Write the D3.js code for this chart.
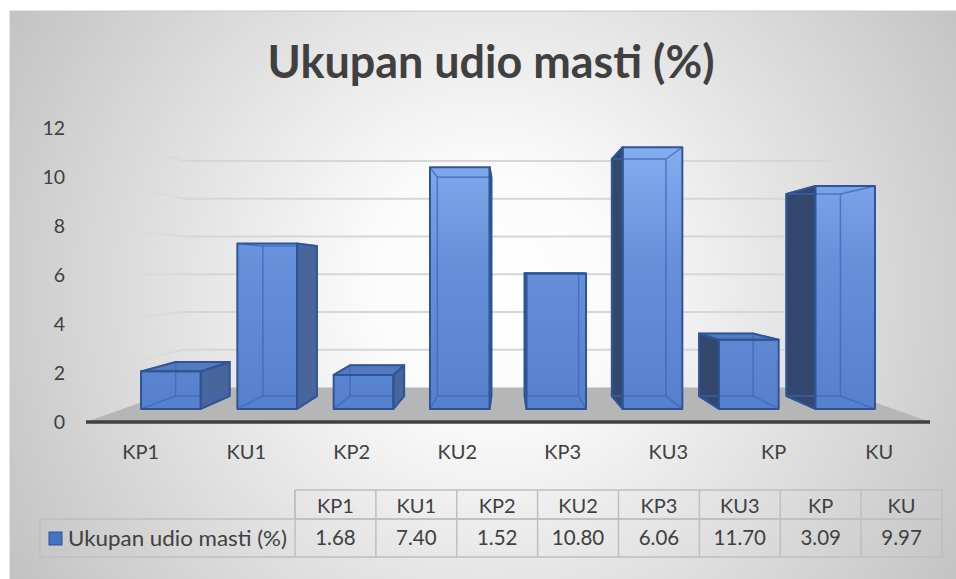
<!DOCTYPE html>
<html>
<head>
<meta charset="utf-8">
<script src="https://cdn.jsdelivr.net/npm/d3@7"></script>
<style>
  body { margin: 0; background: #fff; }
  text { font-family: Lato, "Open Sans", sans-serif; fill: #404040; }
</style>
</head>
<body>
<div class="svg"></div>
<script>
// chart data
var categories = ["KP1", "KU1", "KP2", "KU2", "KP3", "KU3", "KP", "KU"];
var values = [1.68, 7.40, 1.52, 10.80, 6.06, 11.70, 3.09, 9.97];
var valueLabels = ["1.68", "7.40", "1.52", "10.80", "6.06", "11.70", "3.09", "9.97"];
var yTicks = [0, 2, 4, 6, 8, 10, 12];
var seriesName = "Ukupan udio masti (%)";
var title = "Ukupan udio masti (%)";

var width = 956, height = 579;

var svg = d3.select("div.svg").append("svg")
  .attr("width", width)
  .attr("height", height);

var defs = svg.append("defs");
var bg = defs.append("radialGradient")
  .attr("id", "bg")
  .attr("gradientUnits", "userSpaceOnUse")
  .attr("cx", 490).attr("cy", 290).attr("r", 560);
bg.append("stop").attr("offset", 0).attr("stop-color", "#ffffff");
bg.append("stop").attr("offset", 0.22).attr("stop-color", "#fbfbfb");
bg.append("stop").attr("offset", 1).attr("stop-color", "#c2c2c2");

var barGrad = defs.append("linearGradient")
  .attr("id", "barGrad")
  .attr("gradientUnits", "userSpaceOnUse")
  .attr("x1", 0).attr("y1", 140).attr("x2", 0).attr("y2", 410);
barGrad.append("stop").attr("offset", 0).attr("stop-color", "#86aef2");
barGrad.append("stop").attr("offset", 0.45).attr("stop-color", "#6690da");
barGrad.append("stop").attr("offset", 1).attr("stop-color", "#5680cc");

var wallLine = defs.append("linearGradient")
  .attr("id", "wallLine")
  .attr("x1", 0).attr("x2", 1).attr("y1", 0).attr("y2", 0);
wallLine.append("stop").attr("offset", 0).attr("stop-color", "#d9d9d9").attr("stop-opacity", 0.2);
wallLine.append("stop").attr("offset", 1).attr("stop-color", "#d9d9d9").attr("stop-opacity", 1);

svg.append("rect")
  .attr("x", 10).attr("y", 11)
  .attr("width", 960).attr("height", 580)
  .attr("fill", "url(#bg)")
  .attr("stroke", "#c8c8c8");

// title
svg.append("text")
  .attr("x", 491).attr("y", 78)
  .attr("text-anchor", "middle")
  .attr("font-size", 45)
  .attr("font-weight", "bold")
  .attr("textLength", 447)
  .attr("lengthAdjust", "spacingAndGlyphs")
  .text(title);

// perspective setup: front plane scales + vanishing point
var x = d3.scaleBand().domain(categories).range([86, 930]);
var y = d3.scaleLinear().domain([0, 12]).range([422, 128]);
var vp = [508, 272];
var sWall = 0.77, sFront = 0.913, sBack = 0.827;

function P(X, v, s) {
  return [vp[0] + (X - vp[0]) * s, vp[1] + (y(v) - vp[1]) * s];
}
function poly(pts) { return "M" + pts.map(p => p.join(",")).join("L") + "Z"; }

var x0 = x.range()[0], x1 = x.range()[1];

// floor
svg.append("path")
  .attr("d", poly([P(x0, 0, 1), P(x1, 0, 1), P(x1, 0, sWall), P(x0, 0, sWall)]))
  .attr("fill", "#b6b6b6");

// gridlines on left wall and back wall
var grid = svg.append("g");
yTicks.filter(d => d > 0).forEach(function(t) {
  var a = P(x0, t, 1), b = P(x0, t, sWall), c = P(x1, t, sWall);
  grid.append("line")
    .attr("x1", a[0]).attr("y1", a[1]).attr("x2", b[0]).attr("y2", b[1])
    .attr("stroke", "url(#wallLine)").attr("stroke-width", 2);
  grid.append("line")
    .attr("x1", b[0]).attr("y1", b[1]).attr("x2", c[0]).attr("y2", c[1])
    .attr("stroke", "#d6d6d6").attr("stroke-width", 2);
});

// front axis line
svg.append("line")
  .attr("x1", P(x0, 0, 1)[0]).attr("y1", y(0))
  .attr("x2", P(x1, 0, 1)[0]).attr("y2", y(0))
  .attr("stroke", "#404040").attr("stroke-width", 3.5);

// y tick labels
svg.append("g").selectAll("text")
  .data(yTicks)
  .join("text")
  .attr("x", 65)
  .attr("y", d => y(d))
  .attr("dy", "0.36em")
  .attr("text-anchor", "end")
  .attr("font-size", 19.5)
  .text(d => d);

// bars as 3d boxes
var bw = x.bandwidth() * 0.62;
var edge = "#2f5597";
var bars = svg.append("g");
categories.forEach(function(c, i) {
  var v = values[i];
  var cx = x(c) + x.bandwidth() / 2;
  var L = cx - bw / 2, R = cx + bw / 2;
  var front = [P(L, 0, sFront), P(R, 0, sFront), P(R, v, sFront), P(L, v, sFront)];
  var back = [P(L, 0, sBack), P(R, 0, sBack), P(R, v, sBack), P(L, v, sBack)];
  var g = bars.append("g");

  // visible side faces
  if (L > vp[0]) {
    g.append("path").attr("d", poly([front[0], back[0], back[3], front[3]]))
      .attr("fill", "#34476c");
  }
  if (R < vp[0]) {
    g.append("path").attr("d", poly([front[1], back[1], back[2], front[2]]))
      .attr("fill", "#48669c");
  }
  if (y(v) > vp[1]) {
    g.append("path").attr("d", poly([front[3], front[2], back[2], back[3]]))
      .attr("fill", "#5479c0");
  }
  g.append("path").attr("d", poly(front)).attr("fill", "url(#barGrad)");

  // hidden edges seen through the glassy box
  var hidden = g.append("g").attr("stroke", "#3d67b5").attr("stroke-opacity", 0.75)
    .attr("stroke-width", 1.5).attr("fill", "none");
  hidden.append("path").attr("d", poly(back));
  for (var k = 0; k < 4; k++) {
    hidden.append("line")
      .attr("x1", front[k][0]).attr("y1", front[k][1])
      .attr("x2", back[k][0]).attr("y2", back[k][1]);
  }

  // visible outlines
  var out = g.append("g").attr("stroke", edge).attr("stroke-width", 2)
    .attr("fill", "none").attr("stroke-linejoin", "round");
  if (L > vp[0]) out.append("path").attr("d", poly([front[0], back[0], back[3], front[3]]));
  if (R < vp[0]) out.append("path").attr("d", poly([front[1], back[1], back[2], front[2]]));
  if (y(v) > vp[1]) out.append("path").attr("d", poly([front[3], front[2], back[2], back[3]]));
  out.append("path").attr("d", poly(front));
});

// category labels
svg.append("g").selectAll("text")
  .data(categories)
  .join("text")
  .attr("x", d => x(d) + x.bandwidth() / 2 + 2)
  .attr("y", 452)
  .attr("dy", "0.36em")
  .attr("text-anchor", "middle")
  .attr("font-size", 20)
  .text(d => d);

// data table
var tx = d3.scaleBand().domain(categories).range([295, 942]);
var rowTop = 490, rowMid = 519, rowBot = 557, labelLeft = 40;
var tbl = svg.append("g");
var border = "#bfbfbf";

tbl.append("rect").attr("x", tx.range()[0]).attr("y", rowTop)
  .attr("width", tx.range()[1] - tx.range()[0]).attr("height", rowMid - rowTop)
  .attr("fill", "none").attr("stroke", border).attr("stroke-width", 1.5);
tbl.append("rect").attr("x", labelLeft).attr("y", rowMid)
  .attr("width", tx.range()[1] - labelLeft).attr("height", rowBot - rowMid)
  .attr("fill", "none").attr("stroke", border).attr("stroke-width", 1.5);
categories.forEach(function(c) {
  tbl.append("line").attr("x1", tx(c)).attr("x2", tx(c))
    .attr("y1", rowTop).attr("y2", rowBot)
    .attr("stroke", border).attr("stroke-width", 1.5);
});

tbl.selectAll("text.head")
  .data(categories)
  .join("text").attr("class", "head")
  .attr("x", d => tx(d) + tx.bandwidth() / 2)
  .attr("y", (rowTop + rowMid) / 2 + 1)
  .attr("dy", "0.36em")
  .attr("text-anchor", "middle")
  .attr("font-size", 20)
  .text(d => d);

tbl.selectAll("text.val")
  .data(valueLabels)
  .join("text").attr("class", "val")
  .attr("x", (d, i) => tx(categories[i]) + tx.bandwidth() / 2)
  .attr("y", (rowMid + rowBot) / 2)
  .attr("dy", "0.36em")
  .attr("text-anchor", "middle")
  .attr("font-size", 20.5)
  .text(d => d);

// legend key in table
tbl.append("rect").attr("x", 49).attr("y", 532).attr("width", 13).attr("height", 13)
  .attr("fill", "#4472c4").attr("stroke", edge).attr("stroke-width", 1);
tbl.append("text").attr("x", 68).attr("y", (rowMid + rowBot) / 2)
  .attr("dy", "0.36em")
  .attr("font-size", 22)
  .attr("textLength", 219)
  .attr("lengthAdjust", "spacingAndGlyphs")
  .text(seriesName);
</script>
</body>
</html>
